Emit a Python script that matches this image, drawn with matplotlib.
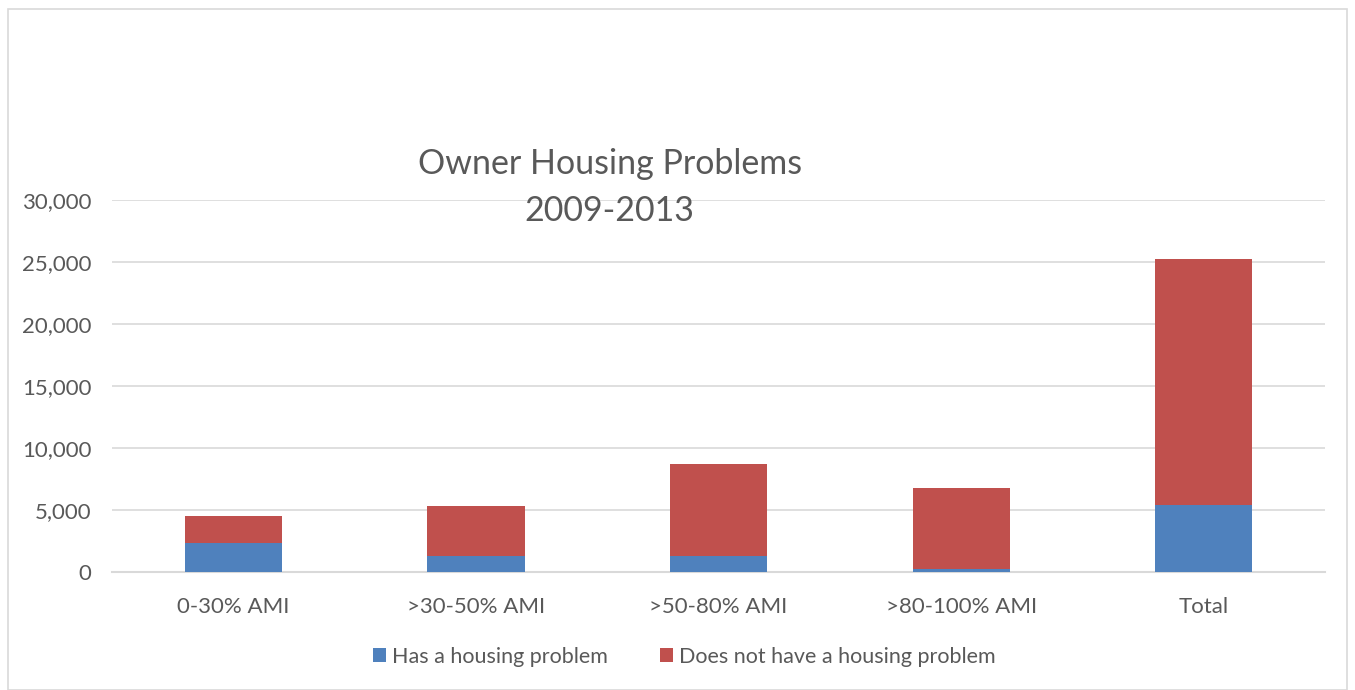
import matplotlib
matplotlib.use('Agg')
import matplotlib.pyplot as plt
from matplotlib.patches import Rectangle
import numpy as np

plt.rcParams['font.family'] = ['Lato', 'DejaVu Sans']

categories = ['0-30% AMI', '>30-50% AMI', '>50-80% AMI', '>80-100% AMI', 'Total']
has_problem = [2370, 1330, 1280, 260, 5440]
no_problem = [2110, 3990, 7410, 6510, 19820]
yticks = [0, 5000, 10000, 15000, 20000, 25000, 30000]

fig = plt.figure(figsize=(13.55, 6.9), dpi=100)
ax = fig.add_axes([0.0827, 0.171, 0.978 - 0.0827, 0.539])

x = np.arange(len(categories))
ax.bar(x, has_problem, width=0.4, color='#4F81BD', label='Has a housing problem', zorder=3)
ax.bar(x, no_problem, width=0.4, bottom=has_problem, color='#C0504D',
       label='Does not have a housing problem', zorder=3)

ax.set_xlim(-0.5, len(categories) - 0.5)
ax.set_ylim(0, 30000)
ax.set_yticks(yticks)
ax.set_yticklabels(['{:,}'.format(v) for v in yticks])
ax.set_xticks(x)
ax.set_xticklabels(categories)
ax.tick_params(axis='both', length=0, labelsize=16, colors='#595959')
ax.tick_params(axis='x', pad=18)
ax.tick_params(axis='y', pad=15)
ax.grid(axis='y', color='#d9d9d9', linewidth=1.2, zorder=0)
for s in ['top', 'right', 'left']:
    ax.spines[s].set_visible(False)
ax.spines['bottom'].set_color('#d9d9d9')
ax.spines['bottom'].set_linewidth(1.5)

fig.text(0.450, 0.762, 'Owner Housing Problems', ha='center', va='center',
         fontsize=24.5, color='#595959')
fig.text(0.450, 0.694, '2009-2013', ha='center', va='center',
         fontsize=24.5, color='#595959')

leg = fig.legend(loc='center', bbox_to_anchor=(0.505, 0.048), ncol=2, frameon=False,
                 fontsize=15.5, handlelength=0.6, handleheight=0.6, handletextpad=0.3,
                 columnspacing=2.4)
for t in leg.get_texts():
    t.set_color('#595959')

fig.patches.append(Rectangle((8 / 1355, 0), 1 - 16 / 1355, 1 - 9 / 690,
                             transform=fig.transFigure, fill=False,
                             edgecolor='#d9d9d9', linewidth=1.2))

fig.savefig('out.png', dpi=100)
